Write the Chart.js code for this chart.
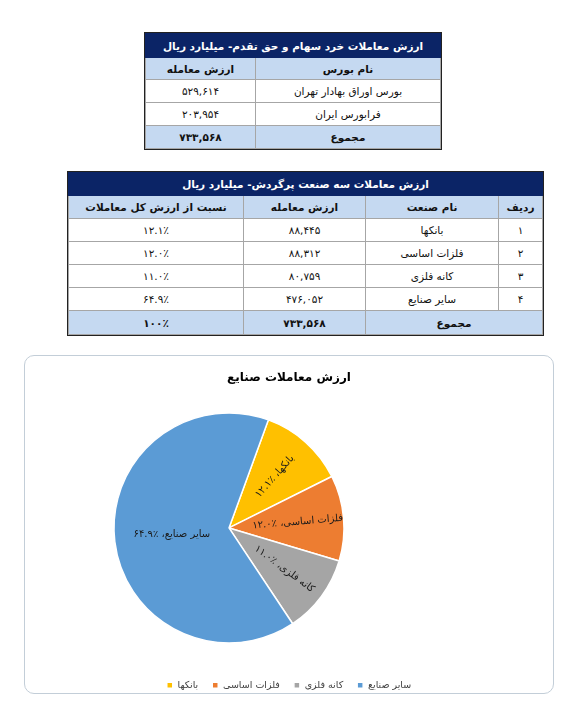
<!DOCTYPE html>
<html lang="fa">
<head>
<meta charset="utf-8">
<script src="https://cdn.jsdelivr.net/npm/chart.js@4.4.1/dist/chart.umd.min.js"></script>
<style>
  body { margin: 0; width: 578px; height: 728px; background: #fff; position: relative;
         font-family: "DejaVu Sans", sans-serif; }
  table { position: absolute; border-collapse: collapse; direction: rtl; table-layout: fixed;
          font-size: 10.5px; color: #111; }
  td { border: 1px solid #a6a6a6; text-align: center; padding: 0; white-space: nowrap; overflow: hidden; }
  tr.ttl td { background: #0b2466; color: #fff; font-weight: bold; font-size: 10.5px; border-color: #0b2466; }
  tr.hd td, tr.sum td { background: #c5d9f1; font-weight: bold; }
  #t1 { left: 145px; top: 33px; width: 295px; outline: 1.5px solid #222; }
  #t2 { left: 68px; top: 172px; width: 474px; outline: 1.5px solid #222; }
  #box { position: absolute; left: 24px; top: 355px; width: 528px; height: 337px;
         border: 1.5px solid #c3ced8; border-radius: 10px; background: #fff; }
  #pie { position: absolute; left: 0; top: 0; }
</style>
</head>
<body>
<table id="t1"></table>
<table id="t2"></table>
<div id="box"><canvas id="pie" width="528" height="344"></canvas></div>
<script>
// جدول اول: ارزش معاملات خرد (میلیارد ریال)
const exchangeNames  = ['بورس اوراق بهادار تهران', 'فرابورس ایران'];
const exchangeValues = [529614, 203954];
const tradeTotal     = 733568;

// جدول دوم و نمودار: سه صنعت پرگردش
const industries     = ['بانکها', 'فلزات اساسی', 'کانه فلزی', 'سایر صنایع'];
const industryValues = [88445, 88312, 80759, 476052];
const industryShares = [12.1, 12.0, 11.0, 64.9];
const sliceColors    = ['#ffc000', '#ed7d31', '#a5a5a5', '#5b9bd5'];

const FONT = '"DejaVu Sans", sans-serif';
const fa = s => String(s).replace(/\d/g, d => '۰۱۲۳۴۵۶۷۸۹'[d]);
const num = n => fa(n.toLocaleString('en-US'));
const pct = v => fa(v.toFixed(1)) + '٪';

// tables
const cols = widths => '<colgroup>' + widths.map(w => `<col style="width:${w}px">`).join('') + '</colgroup>';
const row = (cls, h, cells) =>
    `<tr class="${cls}" style="height:${h}px">` +
    cells.map(c => `<td${c.span ? ` colspan="${c.span}"` : ''}>${c.t}</td>`).join('') +
    '</tr>';

let t1 = cols([185, 110]);
t1 += row('ttl', 24, [{ t: 'ارزش معاملات خرد سهام و حق تقدم- میلیارد ریال', span: 2 }]);
t1 += row('hd', 22, [{ t: 'نام بورس' }, { t: 'ارزش معامله' }]);
exchangeNames.forEach((n, i) => { t1 += row('', 23, [{ t: n }, { t: num(exchangeValues[i]) }]); });
t1 += row('sum', 23, [{ t: 'مجموع' }, { t: num(tradeTotal) }]);
document.getElementById('t1').innerHTML = t1;

let t2 = cols([44, 133, 122, 175]);
t2 += row('ttl', 23, [{ t: 'ارزش معاملات سه صنعت پرگردش- میلیارد ریال', span: 4 }]);
t2 += row('hd', 23, [{ t: 'ردیف' }, { t: 'نام صنعت' }, { t: 'ارزش معامله' }, { t: 'نسبت از ارزش کل معاملات' }]);
industries.forEach((n, i) => {
    t2 += row('', 23, [{ t: fa(i + 1) }, { t: n }, { t: num(industryValues[i]) }, { t: pct(industryShares[i]) }]);
});
t2 += row('sum', 24, [{ t: 'مجموع', span: 2 }, { t: num(tradeTotal) }, { t: fa(100) + '٪' }]);
document.getElementById('t2').innerHTML = t2;

// move the pie off-centre, like the Excel plot area
const pieShift = {
    id: 'pieShift',
    afterLayout(chart, args, opts) {
        const a = chart.chartArea;
        a.left += opts.dx; a.right += opts.dx;
        a.top += opts.dy; a.bottom += opts.dy;
    }
};

// labels inside the slices, small ones turned along the radius
const sliceLabels = {
    id: 'sliceLabels',
    afterDatasetsDraw(chart) {
        const ctx = chart.ctx;
        chart.getDatasetMeta(0).data.forEach((arc, i) => {
            const p = arc.getProps(['x', 'y', 'startAngle', 'endAngle', 'outerRadius'], true);
            const mid = (p.startAngle + p.endAngle) / 2;
            const small = industryShares[i] < 20;
            const r = p.outerRadius * (small ? 0.6 : 0.5);
            ctx.save();
            ctx.translate(p.x + Math.cos(mid) * r, p.y + Math.sin(mid) * r);
            if (small) ctx.rotate(mid);
            ctx.font = '10px ' + FONT;
            ctx.fillStyle = '#1a1a1a';
            ctx.textAlign = 'center';
            ctx.textBaseline = 'middle';
            ctx.direction = 'rtl';
            ctx.fillText(industries[i] + '، ٪' + fa(industryShares[i].toFixed(1)), 0, 0);
            ctx.restore();
        });
    }
};

new Chart(document.getElementById('pie'), {
    type: 'pie',
    data: {
        labels: industries,
        datasets: [{
            data: industryValues,
            backgroundColor: sliceColors,
            borderColor: '#ffffff',
            borderWidth: 1.5,
            radius: 115
        }]
    },
    options: {
        responsive: false,
        animation: false,
        rotation: 20,
        plugins: {
            title: {
                display: true,
                text: 'ارزش معاملات صنایع',
                color: '#000',
                font: { family: FONT, size: 12, weight: 'bold' },
                padding: { top: 15, bottom: 8 }
            },
            legend: {
                position: 'bottom',
                labels: {
                    boxWidth: 6, boxHeight: 6,
                    color: '#404040',
                    font: { family: FONT, size: 9.5 },
                    padding: 14
                }
            },
            tooltip: { enabled: false },
            pieShift: { dx: -60, dy: -2 }
        }
    },
    plugins: [pieShift, sliceLabels]
});
</script>
</body>
</html>
